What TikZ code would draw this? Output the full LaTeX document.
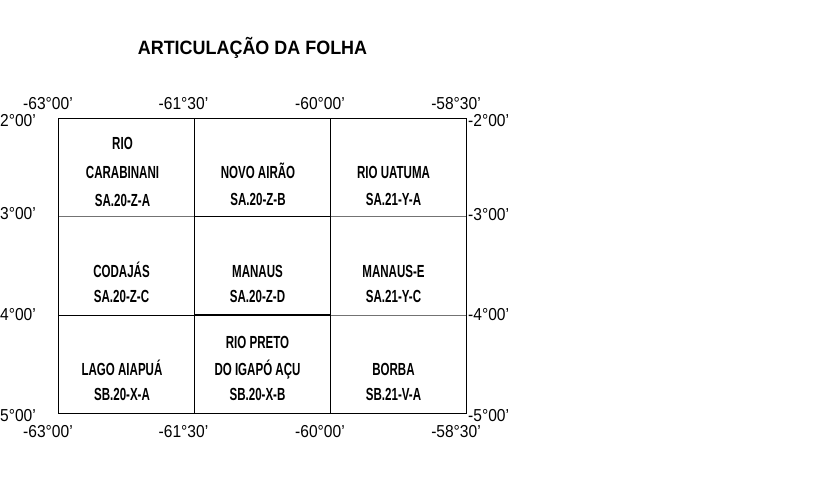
\documentclass[tikz,border=0pt]{standalone}
\usepackage{fontspec}
\setmainfont{Liberation Sans}
\newfontfamily\cellfont{Liberation Sans Bold}[FakeStretch=0.66]
\newfontfamily\titlefont{Liberation Sans Bold}[FakeStretch=0.93]
\newfontfamily\coordfont{Liberation Sans}[FakeStretch=0.90]
\begin{document}
\begin{tikzpicture}[x=1pt,y=-1pt,
  celltxt/.style={anchor=base,inner sep=0pt,font=\cellfont\fontsize{17.5}{19}\selectfont},
  coordl/.style={anchor=base east,inner sep=0pt,font=\coordfont\fontsize{17.3}{19}\selectfont},
  coordr/.style={anchor=base west,inner sep=0pt,font=\coordfont\fontsize{17.3}{19}\selectfont},
  coordc/.style={anchor=base,inner sep=0pt,font=\coordfont\fontsize{17.3}{19}\selectfont},
  outer/.style={draw=black,line width=0.9pt},
  light/.style={draw=black!55,line width=0.9pt},
  center/.style={draw=black,line width=1.4pt}]
\useasboundingbox (0,0) rectangle (817,481);
% title
\node[anchor=base,inner sep=0pt,font=\titlefont\fontsize{19.3}{21}\selectfont] (title) at (252.5,55) {ARTICULAÇÃO DA FOLHA};
% grid corners
\coordinate (tl) at (58,118.3);
\coordinate (br) at (466,413.3);
\coordinate (c1t) at (194.3,118.3);
\coordinate (c1b) at (194.3,413.3);
\coordinate (c2t) at (330.7,118.3);
\coordinate (c2b) at (330.7,413.3);
\coordinate (r1l) at (58,216.5);
\coordinate (r1a) at (194.3,216.5);
\coordinate (r1b) at (330.7,216.5);
\coordinate (r1r) at (466,216.5);
\coordinate (r2l) at (58,315);
\coordinate (r2a) at (194.3,315);
\coordinate (r2b) at (330.7,315);
\coordinate (r2r) at (466,315);
\draw[light] (r1l) -- (r1a);
\draw[light] (r1b) -- (r1r);
\draw[light] (r2b) -- (r2r);
\draw[outer] (r2l) -- (r2a);
\draw[outer] (c1t) -- (c1b);
\draw[outer] (c2t) -- (c2b);
\draw[outer] (tl) rectangle (br);
\draw[center] (r1a) rectangle (r2b);
% cell texts
\node[celltxt] (a1) at (122.5,150) {RIO};
\node[celltxt] (a2) at (122.5,178.3) {CARABINANI};
\node[celltxt] (a3) at (122.5,206.3) {SA.20-Z-A};
\node[celltxt] (b1) at (258,178.5) {NOVO AIRÃO};
\node[celltxt] (b2) at (258,206) {SA.20-Z-B};
\node[celltxt] (c1) at (393.5,179) {RIO UATUMA};
\node[celltxt] (c2) at (393.5,205.5) {SA.21-Y-A};
\node[celltxt] (d1) at (121.5,277.3) {CODAJÁS};
\node[celltxt] (d2) at (121.5,302) {SA.20-Z-C};
\node[celltxt] (e1) at (257.5,277) {MANAUS};
\node[celltxt] (e2) at (257.5,302.3) {SA.20-Z-D};
\node[celltxt] (f1) at (393.5,277.3) {MANAUS-E};
\node[celltxt] (f2) at (393.5,302) {SA.21-Y-C};
\node[celltxt] (g1) at (122,375) {LAGO AIAPUÁ};
\node[celltxt] (g2) at (122,400) {SB.20-X-A};
\node[celltxt] (h1) at (257.5,348.3) {RIO PRETO};
\node[celltxt] (h2) at (257.5,375) {DO IGAPÓ AÇU};
\node[celltxt] (h3) at (257.5,400) {SB.20-X-B};
\node[celltxt] (i1) at (393.5,375) {BORBA};
\node[celltxt] (i2) at (393.5,400) {SB.21-V-A};
% top longitudes
\node[coordc] (lt1) at (48,110) {-63°00’};
\node[coordc] (lt2) at (183.5,110) {-61°30’};
\node[coordc] (lt3) at (320,110) {-60°00’};
\node[coordc] (lt4) at (456,110) {-58°30’};
% bottom longitudes
\node[coordc] (lb1) at (48,437) {-63°00’};
\node[coordc] (lb2) at (183.5,437) {-61°30’};
\node[coordc] (lb3) at (320,437) {-60°00’};
\node[coordc] (lb4) at (456,437) {-58°30’};
% left latitudes
\node[coordl] (ll1) at (36,126.5) {2°00’};
\node[coordl] (ll2) at (36,219.5) {3°00’};
\node[coordl] (ll3) at (36,320) {4°00’};
\node[coordl] (ll4) at (36,421) {5°00’};
% right latitudes
\node[coordr] (lr1) at (468,127) {-2°00’};
\node[coordr] (lr2) at (468,220.5) {-3°00’};
\node[coordr] (lr3) at (468,320) {-4°00’};
\node[coordr] (lr4) at (468,421.5) {-5°00’};
\end{tikzpicture}
\end{document}
